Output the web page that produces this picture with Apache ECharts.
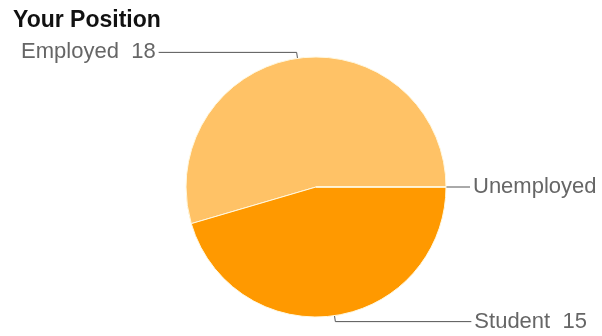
<!DOCTYPE html>
<html>
<head>
<meta charset="utf-8">
<script src="https://cdn.jsdelivr.net/npm/echarts@6/dist/echarts.min.js"></script>
<style>
  html, body { margin: 0; padding: 0; background: #fff; }
  #chart { width: 602px; height: 336px; }
</style>
</head>
<body>
<div id="chart"></div>
<script>
// data
var positions = ['Employed', 'Student', 'Unemployed']
var counts = [18, 15, 0]

// styling per slice
var sliceColors = ['#ffc266', '#ff9900', '#dc3912']
var lineLen2 = [138, 136, 18]

var chart = echarts.init(document.getElementById('chart'))

chart.setOption({
  animation: false,
  title: {
    text: 'Your Position',
    left: 13,
    top: 9,
    padding: 0,
    textStyle: {
      fontFamily: 'Liberation Sans, Arial, sans-serif',
      fontSize: 23,
      fontWeight: 'bold',
      color: '#111'
    }
  },
  series: [{
    type: 'pie',
    center: [316, 187],
    radius: 130,
    startAngle: 0,
    clockwise: false,
    avoidLabelOverlap: false,
    itemStyle: {
      borderColor: '#fff8e0',
      borderWidth: 1
    },
    label: {
      show: true,
      position: 'outside',
      distanceToLabelLine: 3,
      fontFamily: 'Liberation Sans, Arial, sans-serif',
      fontSize: 22,
      color: '#666',
      formatter: function(p) {
        return p.value > 0 ? p.name + '  ' + p.value : p.name
      }
    },
    labelLine: {
      show: true,
      length: 6,
      length2: 130,
      lineStyle: { color: '#555', width: 1 }
    },
    emphasis: { disabled: true },
    data: positions.map(function(name, i) {
      return {
        name: name,
        value: counts[i],
        itemStyle: { color: sliceColors[i] },
        labelLine: { length2: lineLen2[i] }
      }
    })
  }]
})
</script>
</body>
</html>
